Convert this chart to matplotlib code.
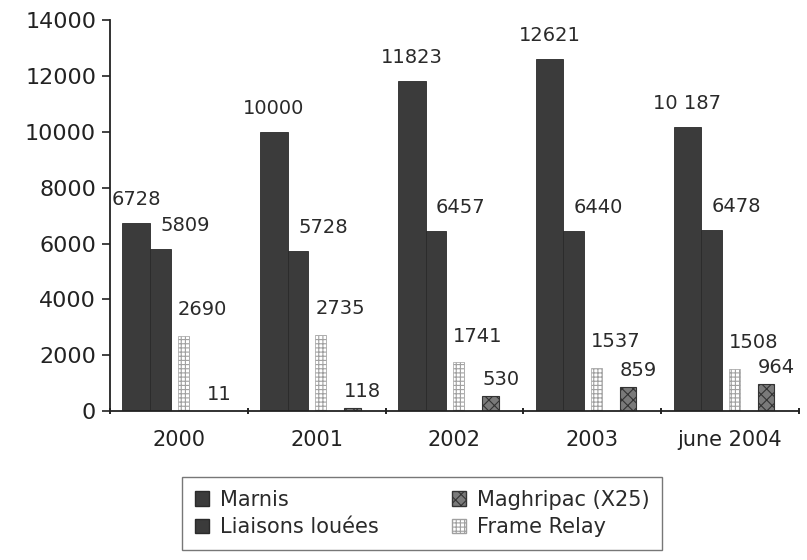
import matplotlib
matplotlib.use("Agg")
import matplotlib.pyplot as plt
from matplotlib.patches import Patch
import numpy as np

categories = ["2000", "2001", "2002", "2003", "june 2004"]
marnis = [6728, 10000, 11823, 12621, 10187]
liaisons = [5809, 5728, 6457, 6440, 6478]
frame_relay = [2690, 2735, 1741, 1537, 1508]
maghripac = [11, 118, 530, 859, 964]
marnis_labels = ["6728", "10000", "11823", "12621", "10 187"]

plt.rcParams['font.family'] = ['DejaVu Sans']
plt.rcParams['hatch.linewidth'] = 0.8

fig = plt.figure(figsize=(8.07, 5.6), dpi=100)
ax = fig.add_axes([0.1363, 0.266, 0.990 - 0.1363, 0.964 - 0.266])

x = np.arange(len(categories))
dark = "#3b3b3b"
txt = "#2a2a2a"

b1 = ax.bar(x - 0.31, marnis, width=0.20, color=dark, edgecolor="#2a2a2a", linewidth=0.6)
b2 = ax.bar(x - 0.135, liaisons, width=0.15, color=dark, edgecolor="#2a2a2a", linewidth=0.6)
b3 = ax.bar(x + 0.03, frame_relay, width=0.08, color="white", edgecolor="#a0a0a0",
            hatch="++++", linewidth=0.5)
b4 = ax.bar(x + 0.26, maghripac, width=0.12, color="#7a7a7a", edgecolor="#333333",
            hatch="xxx", linewidth=0.8)

fs = 14
for i in range(len(categories)):
    ax.annotate(marnis_labels[i], (x[i] - 0.31, marnis[i]), xytext=(0, 10),
                textcoords="offset points", ha="center", va="bottom", fontsize=fs, color=txt)
    ax.annotate(str(liaisons[i]), (x[i] - 0.135, liaisons[i]), xytext=(0, 10),
                textcoords="offset points", ha="left", va="bottom", fontsize=fs, color=txt)
    ax.annotate(str(frame_relay[i]), (x[i] - 0.01, frame_relay[i]), xytext=(0, 12),
                textcoords="offset points", ha="left", va="bottom", fontsize=fs, color=txt)
    ax.annotate(str(maghripac[i]), (x[i] + 0.20, maghripac[i]), xytext=(0, 5),
                textcoords="offset points", ha="left", va="bottom", fontsize=fs, color=txt)

ax.set_xlim(-0.5, 4.5)
ax.set_ylim(0, 14000)
ax.set_yticks(np.arange(0, 14001, 2000))
ax.tick_params(axis='y', labelsize=16, length=6, width=1.2, colors="#222222", pad=4)
ax.set_xticks(x)
ax.set_xticklabels(categories)
ax.tick_params(axis='x', which='major', length=0, labelsize=15, pad=14, colors="#222222")
ax.set_xticks(np.arange(-0.5, 4.6, 1), minor=True)
ax.tick_params(axis='x', which='minor', length=5, width=1.2, direction='inout')
for s in ["top", "right"]:
    ax.spines[s].set_visible(False)
for s in ["left", "bottom"]:
    ax.spines[s].set_linewidth(1.3)
    ax.spines[s].set_color("#222222")

handles = [
    Patch(facecolor=dark, edgecolor="#2a2a2a", label="Marnis"),
    Patch(facecolor=dark, edgecolor="#2a2a2a", label="Liaisons louées"),
    Patch(facecolor="#7a7a7a", edgecolor="#333333", hatch="xxx", label="Maghripac (X25)"),
    Patch(facecolor="white", edgecolor="#a0a0a0", hatch="++++", label="Frame Relay"),
]
leg = fig.legend(handles=handles, ncol=2, loc="center", bbox_to_anchor=(0.523, 0.083),
                 fontsize=15, frameon=True, fancybox=False, edgecolor="#555555",
                 handlelength=0.7, handleheight=0.7, handletextpad=0.5,
                 columnspacing=3.5, labelspacing=0.35, borderpad=0.6, borderaxespad=0)
for t in leg.get_texts():
    t.set_color(txt)

fig.savefig("out.png", dpi=100, facecolor="white")
